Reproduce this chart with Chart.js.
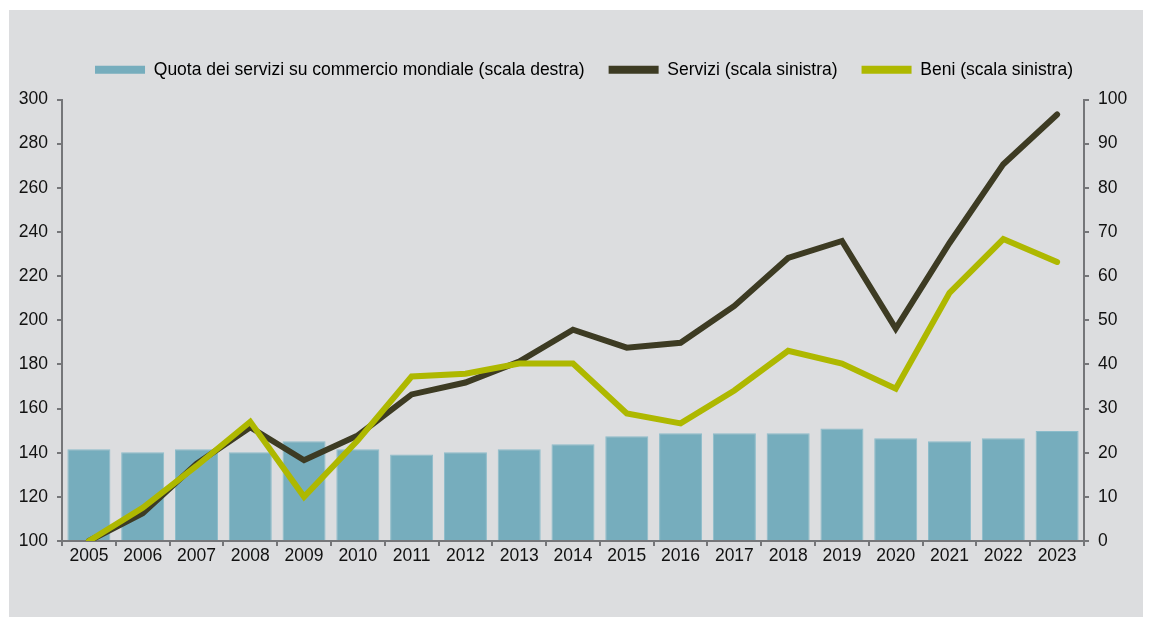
<!DOCTYPE html>
<html>
<head>
<meta charset="utf-8">
<script src="https://cdn.jsdelivr.net/npm/chart.js@4"></script>
<style>
  html, body { margin: 0; padding: 0; background: #ffffff; }
  #panel {
    position: absolute;
    left: 9px; top: 10px;
    width: 1134px; height: 607px;
    background: #dcdddf;
  }
  #chart { display: block; }
</style>
</head>
<body>
<div id="panel"><canvas id="chart" width="1134" height="607"></canvas></div>
<script>
// years on the x axis
const years = ['2005', '2006', '2007', '2008', '2009', '2010', '2011', '2012', '2013', '2014',
  '2015', '2016', '2017', '2018', '2019', '2020', '2021', '2022', '2023'];

// share of services in world trade, right axis (%)
const quotaServizi = [20.8, 20.1, 20.8, 20.1, 22.6, 20.8, 19.6, 20.1, 20.8, 21.9,
  23.7, 24.4, 24.4, 24.4, 25.5, 23.3, 22.6, 23.3, 24.9];

// indices, left axis (2005 = 100)
const servizi = [100, 112.6, 135, 151.5, 136.6, 147.8, 166.4, 171.8, 181.3, 195.7,
  187.6, 189.8, 206.5, 228.2, 235.9, 196.2, 235, 270.7, 293.2];
const beni = [100, 115, 134, 154, 120, 145.6, 174.5, 175.8, 180.4, 180.4,
  157.8, 153.3, 168.2, 186.2, 180.4, 169, 212.4, 236.8, 226.4];

const leftTicks = { min: 100, max: 300, step: 20 };
const rightTicks = { min: 0, max: 100, step: 10 };

const BAR = '#76adbd';
const DARK = '#3d3b23';
const LIME = '#aeb800';
const AXIS = '#757679';
const FONT = { family: "'Liberation Sans', Arial, sans-serif", size: 17.5 };

// a bit more room under the legend row, and the row nudged right
const legendTweak = {
  id: 'legendTweak',
  beforeLayout(chart) {
    const lg = chart.legend;
    if (lg && !lg._patched) {
      const fit = lg.fit;
      lg.fit = function () { fit.call(this); this.height += 11; };
      lg._patched = true;
    }
  },
  afterLayout(chart) {
    const lg = chart.legend;
    if (lg) { lg.left += 8; lg.right += 8; }
  }
};

new Chart(document.getElementById('chart'), {
  type: 'bar',
  data: {
    labels: years,
    datasets: [
      {
        type: 'bar',
        label: 'Quota dei servizi su commercio mondiale (scala destra)',
        data: quotaServizi,
        yAxisID: 'yRight',
        backgroundColor: BAR,
        borderColor: '#8cbcca',
        borderWidth: 1,
        barPercentage: 0.8,
        categoryPercentage: 1,
        order: 3
      },
      {
        type: 'line',
        label: 'Servizi (scala sinistra)',
        data: servizi,
        yAxisID: 'y',
        borderColor: DARK,
        backgroundColor: DARK,
        borderWidth: 6,
        borderCapStyle: 'round',
        pointRadius: 0,
        tension: 0,
        order: 2
      },
      {
        type: 'line',
        label: 'Beni (scala sinistra)',
        data: beni,
        yAxisID: 'y',
        borderColor: LIME,
        backgroundColor: LIME,
        borderWidth: 6,
        borderCapStyle: 'round',
        pointRadius: 0,
        tension: 0,
        order: 1
      }
    ]
  },
  plugins: [legendTweak],
  options: {
    responsive: false,
    animation: false,
    layout: { padding: { top: 27, left: 0, right: 0, bottom: 0 } },
    plugins: {
      tooltip: { enabled: false },
      legend: {
        position: 'top',
        labels: {
          color: '#111111',
          font: FONT,
          boxWidth: 50,
          boxHeight: 8,
          padding: 24,
          sort: (a, b) => a.datasetIndex - b.datasetIndex,
          generateLabels: (chart) => chart.data.datasets.map((ds, i) => ({
            text: ds.label,
            fillStyle: ds.type === 'bar' ? ds.backgroundColor : ds.borderColor,
            strokeStyle: ds.type === 'bar' ? ds.backgroundColor : ds.borderColor,
            lineWidth: 0,
            hidden: false,
            datasetIndex: i
          }))
        }
      }
    },
    scales: {
      x: {
        offset: true,
        grid: {
          offset: true,
          drawOnChartArea: false,
          color: AXIS,
          lineWidth: 2,
          tickLength: 5
        },
        border: { color: AXIS, width: 2 },
        ticks: { color: '#111111', font: FONT, padding: 0, maxRotation: 0, autoSkip: false },
        afterFit: (s) => { s.height = 76; }
      },
      y: {
        position: 'left',
        min: leftTicks.min,
        max: leftTicks.max,
        ticks: { stepSize: leftTicks.step, color: '#111111', font: FONT, padding: 9 },
        grid: { drawOnChartArea: false, color: AXIS, lineWidth: 2, tickLength: 5 },
        border: { color: AXIS, width: 2 },
        afterFit: (s) => { s.width = 53; }
      },
      yRight: {
        position: 'right',
        min: rightTicks.min,
        max: rightTicks.max,
        ticks: { stepSize: rightTicks.step, color: '#111111', font: FONT, padding: 9 },
        grid: { drawOnChartArea: false, color: AXIS, lineWidth: 2, tickLength: 5 },
        border: { color: AXIS, width: 2 },
        afterFit: (s) => { s.width = 59; }
      }
    }
  }
});
</script>
</body>
</html>
